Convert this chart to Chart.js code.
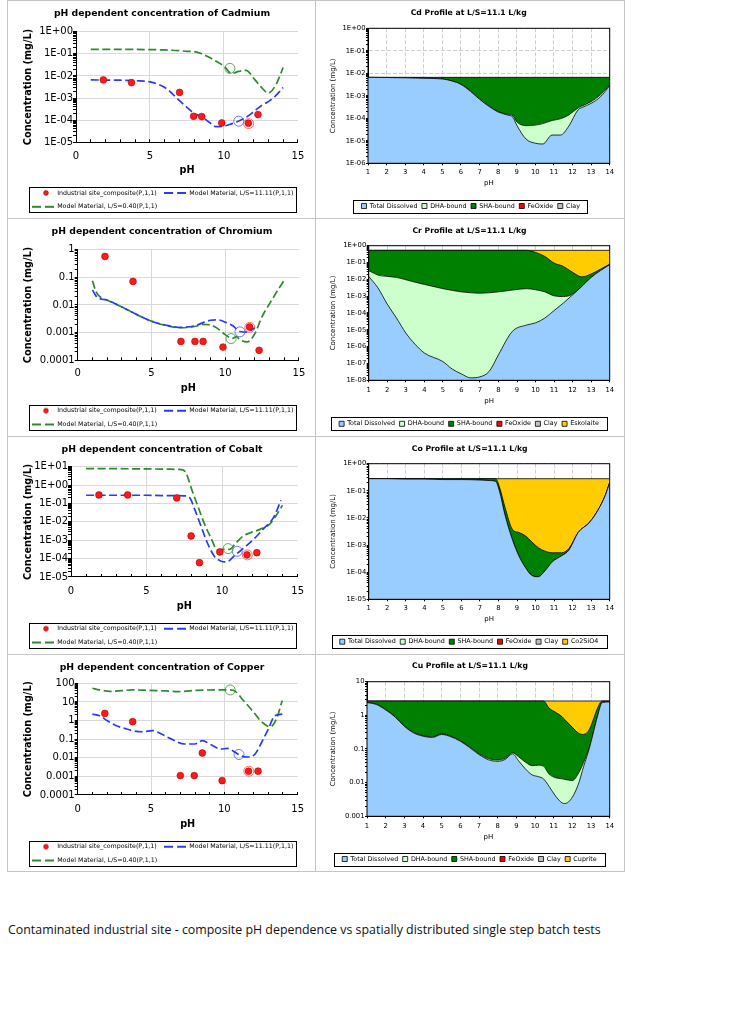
<!DOCTYPE html>
<html>
<head>
<meta charset="utf-8">
<script src="https://cdn.jsdelivr.net/npm/chart.js"></script>
<style>
  body { margin: 0; background: #fff; }
  #page { position: relative; width: 736px; height: 1024px; background: #fff; overflow: hidden; }
  .hl { position: absolute; height: 1px; background: #c4c4c4; }
  .vl { position: absolute; width: 1px; background: #c4c4c4; }
  canvas { position: absolute; }
  #caption { position: absolute; left: 8px; top: 922px; font: 12.4px/16px "Open Sans", sans-serif; color: #111; white-space: nowrap; }
</style>
</head>
<body>
<div id="page">
  <div class="hl" style="left:7px;top:0;width:618px"></div>
  <div class="hl" style="left:7px;top:218px;width:618px"></div>
  <div class="hl" style="left:7px;top:436px;width:618px"></div>
  <div class="hl" style="left:7px;top:654px;width:618px"></div>
  <div class="hl" style="left:7px;top:871px;width:618px"></div>
  <div class="vl" style="left:7px;top:0;height:872px"></div>
  <div class="vl" style="left:315px;top:0;height:872px"></div>
  <div class="vl" style="left:624px;top:0;height:872px"></div>

  <canvas id="cdLeft" width="307" height="218" style="left:8px;top:0px"></canvas>
  <canvas id="cdRight" width="308" height="218" style="left:316px;top:0px"></canvas>
  <canvas id="crLeft" width="307" height="218" style="left:8px;top:218px"></canvas>
  <canvas id="crRight" width="308" height="218" style="left:316px;top:218px"></canvas>
  <canvas id="coLeft" width="307" height="218" style="left:8px;top:436px"></canvas>
  <canvas id="coRight" width="308" height="218" style="left:316px;top:436px"></canvas>
  <canvas id="cuLeft" width="307" height="218" style="left:8px;top:654px"></canvas>
  <canvas id="cuRight" width="308" height="218" style="left:316px;top:654px"></canvas>

  <div id="caption">Contaminated industrial site - composite pH dependence vs spatially distributed single step batch tests</div>
</div>

<script>
// ---- measured samples (industrial site composite), same pH for every metal
const sitePH = [1.85, 3.75, 7.0, 7.95, 8.5, 9.85, 11.65, 12.3];
const cdSite = [6.6e-3, 5.0e-3, 1.8e-3, 1.5e-4, 1.45e-4, 7.5e-5, 7.3e-5, 1.8e-4];
const crSite = [0.57, 0.071, 4.8e-4, 4.8e-4, 4.8e-4, 3.0e-4, 1.6e-3, 2.3e-4];
const coSite = [0.29, 0.29, 0.2, 1.7e-3, 6.0e-5, 2.3e-4, 1.6e-4, 2.1e-4];
const cuSite = [2.4, 0.87, 1.1e-3, 1.1e-3, 0.018, 5.9e-4, 1.9e-3, 1.9e-3];

// ---- highlighted points (rings): green, blue, red
const ringPH = [10.4, 11.0, 11.67];
const cdRing = [0.022, 9.0e-5, 7.0e-5];
const crRing = [6.1e-4, 1.07e-3, 1.55e-3];
const coRing = [3.5e-4, 2.5e-4, 1.6e-4];
const cuRing = [44, 0.015, 1.9e-3];

// ---- model curves, L/S=11.11 and L/S=0.40
const cdPH = [1, 2, 3, 4, 5, 6, 6.5, 7, 7.5, 8, 8.5, 9, 9.5, 10, 10.5, 11, 11.5, 12, 12.5, 13, 13.5, 14];
const cdLS11 = [6.6e-3, 6.5e-3, 6.4e-3, 6.1e-3, 5.4e-3, 3.0e-3, 1.6e-3, 7.6e-4, 3.8e-4, 2.0e-4, 1.45e-4, 8.0e-5, 5.1e-5, 5.4e-5, 6.8e-5, 9.1e-5, 1.35e-4, 2.4e-4, 4.4e-4, 6.9e-4, 1.3e-3, 3.0e-3];
const cdLS04 = [0.16, 0.16, 0.16, 0.158, 0.155, 0.15, 0.145, 0.138, 0.13, 0.125, 0.10, 0.07, 0.045, 0.028, 0.013, 0.016, 0.018, 0.008, 3.2e-3, 1.7e-3, 3.9e-3, 0.024];

const crPH11 = [1, 1.25, 1.5, 2, 3, 4, 5, 6, 7, 8, 8.5, 9, 9.5, 10, 10.5, 11, 11.5, 12];
const crLS11 = [0.035, 0.021, 0.017, 0.015, 8.5e-3, 4.5e-3, 2.6e-3, 1.85e-3, 1.55e-3, 1.8e-3, 2.3e-3, 2.8e-3, 2.9e-3, 2.4e-3, 1.8e-3, 1.1e-3, 1.05e-3, 1.5e-3];
const crPH04 = [1, 1.25, 1.5, 2, 3, 4, 5, 6, 7, 8, 8.5, 9, 9.5, 10, 10.5, 10.75, 11, 11.5, 12, 12.5, 13, 13.5, 14];
const crLS04 = [0.075, 0.03, 0.02, 0.015, 8.5e-3, 4.5e-3, 2.6e-3, 1.8e-3, 1.5e-3, 1.7e-3, 2.0e-3, 1.9e-3, 1.4e-3, 8.5e-4, 6.2e-4, 7.2e-4, 5.5e-4, 4.6e-4, 9.0e-4, 3.8e-3, 0.011, 0.03, 0.08];

const coPH11 = [1, 2, 3, 4, 5, 6, 7, 7.5, 7.85, 8.2, 8.6, 9, 9.5, 9.9, 10.3, 10.8, 11.2, 11.6, 12.3, 12.7, 13.4, 13.9];
const coLS11 = [0.28, 0.28, 0.28, 0.28, 0.28, 0.27, 0.27, 0.26, 0.21, 0.045, 6.0e-3, 8.0e-4, 1.3e-4, 7.5e-5, 6.6e-5, 1.4e-4, 2.6e-4, 4.9e-4, 1.7e-3, 3.9e-3, 0.017, 0.15];
const coPH04 = [1, 2, 3, 4, 5, 6, 7, 7.3, 7.6, 8, 8.4, 8.8, 9.25, 9.7, 10.1, 10.5, 10.9, 11.4, 11.9, 12.5, 13.2, 14];
const coLS04 = [7.8, 7.8, 7.8, 7.7, 7.6, 7.4, 7.2, 7.0, 4.8, 0.55, 0.07, 9.0e-3, 1.4e-3, 3.0e-4, 3.2e-4, 3.2e-4, 6.8e-4, 1.7e-3, 2.6e-3, 3.9e-3, 8.3e-3, 0.08];

const cuPH11 = [1, 1.5, 2, 2.6, 3.2, 3.7, 4.4, 5.1, 5.5, 6.4, 7.3, 8.0, 8.5, 9.1, 9.75, 10.2, 10.65, 11.1, 11.65, 12.1, 12.55, 13.0, 13.45, 13.95];
const cuLS11 = [2.2, 1.8, 1.0, 0.54, 0.38, 0.29, 0.25, 0.29, 0.23, 0.1, 0.055, 0.055, 0.083, 0.05, 0.029, 0.032, 0.022, 0.013, 0.011, 0.016, 0.068, 0.35, 1.8, 2.2];
const cuPH04 = [1, 1.5, 2.2, 3, 3.7, 4.8, 6, 6.85, 8.2, 9.3, 10.2, 10.4, 10.75, 11.3, 12.0, 12.45, 12.9, 13.15, 13.55, 13.95];
const cuLS04 = [54, 44, 37, 40, 44, 42, 39, 36, 42, 44, 44, 44, 37, 12, 2.8, 1.0, 0.53, 0.47, 1.2, 12];

// ---- speciation profiles at L/S=11.1 (upper boundary of each layer)
const profileEnds = [1, 14];

const cdProfPH = [1, 2, 3, 4, 5, 5.5, 6, 6.5, 7, 7.5, 8, 8.5, 8.8, 9, 9.5, 10, 10.4, 10.9, 11.35, 11.8, 12.3, 12.5, 13, 13.5, 14];
const cdDiss = [6.6e-3, 6.5e-3, 6.3e-3, 6.0e-3, 5.6e-3, 4.6e-3, 3.2e-3, 1.6e-3, 7.0e-4, 3.4e-4, 1.9e-4, 1.4e-4, 1.1e-4, 5.0e-5, 1.2e-5, 7.8e-6, 7.2e-6, 1.8e-5, 1.8e-5, 4.5e-5, 2.4e-4, 3.0e-4, 4.6e-4, 9.0e-4, 2.8e-3];
const cdDHA = [6.6e-3, 6.5e-3, 6.3e-3, 6.0e-3, 5.6e-3, 4.6e-3, 3.3e-3, 1.7e-3, 7.3e-4, 3.6e-4, 2.0e-4, 1.5e-4, 1.3e-4, 7.0e-5, 4.7e-5, 5.0e-5, 5.8e-5, 8.0e-5, 9.5e-5, 1.4e-4, 2.9e-4, 3.5e-4, 5.5e-4, 1.1e-3, 3.0e-3];
const cdSHA = [6.6e-3, 6.6e-3];

const crProfPH = [1, 1.5, 2, 2.5, 3, 3.5, 4, 5, 5.5, 6, 6.5, 7, 7.5, 8, 8.75, 9.5, 10, 10.5, 11, 11.5, 12, 12.5, 13, 13.5, 14];
const crDiss = [0.015, 3.1e-3, 3.4e-4, 5.0e-5, 6.5e-6, 1.4e-6, 4.2e-7, 1.3e-7, 4.7e-8, 2.4e-8, 1.4e-8, 1.6e-8, 3.4e-8, 3.3e-7, 8.1e-6, 1.9e-5, 2.6e-5, 5.0e-5, 1.4e-4, 3.9e-4, 1.2e-3, 3.8e-3, 0.013, 0.033, 0.074];
const crDHA = [0.033, 0.018, 0.015, 0.013, 9.5e-3, 6.8e-3, 5.0e-3, 2.8e-3, 2.2e-3, 1.8e-3, 1.6e-3, 1.5e-3, 1.6e-3, 1.8e-3, 2.3e-3, 2.8e-3, 2.4e-3, 1.8e-3, 1.05e-3, 9.5e-4, 1.3e-3, 3.8e-3, 0.013, 0.033, 0.074];
const crShaPH = [1, 9.5, 10, 10.5, 11, 11.5, 12, 12.5, 13, 13.5, 14];
const crSHA = [0.53, 0.53, 0.40, 0.23, 0.093, 0.059, 0.026, 0.014, 0.021, 0.04, 0.08];
const crTotal = [0.53, 0.53];

const coProfPH = [1, 2, 3, 4, 5, 6, 7, 7.5, 7.85, 8.05, 8.35, 8.75, 9.1, 9.45, 9.8, 10.15, 10.5, 10.9, 11.4, 11.8, 12.3, 12.9, 13.4, 13.75, 14];
const coDiss = [0.28, 0.28, 0.27, 0.27, 0.26, 0.26, 0.25, 0.24, 0.22, 0.1, 0.013, 1.6e-3, 4.0e-4, 1.5e-4, 7.6e-5, 6.8e-5, 1.1e-4, 2.4e-4, 4.0e-4, 6.5e-4, 2.9e-3, 6.7e-3, 0.021, 0.065, 0.2];
const coShaPH = [1, 7.85, 8.05, 8.35, 8.75, 9.1, 9.45, 9.8, 10.15, 10.5, 10.9, 11.4, 11.8, 12.3, 12.9, 13.4, 13.75, 14];
const coSHA = [0.28, 0.28, 0.14, 0.025, 3.8e-3, 2.9e-3, 2.2e-3, 1.3e-3, 8.0e-4, 6.0e-4, 5.2e-4, 5.2e-4, 7.5e-4, 2.9e-3, 6.7e-3, 0.021, 0.065, 0.2];
const coTotal = [0.28, 0.28];

const cuProfPH = [1, 1.5, 2, 2.5, 3, 3.5, 4, 4.5, 5, 5.5, 6, 6.5, 7, 7.5, 8, 8.4, 8.8, 9.1, 9.5, 9.85, 10.2, 10.45, 10.75, 11.1, 11.45, 11.6, 12, 12.35, 12.6, 12.9, 13.1, 13.35, 13.6, 14];
const cuDiss = [2.4, 2.1, 1.45, 0.9, 0.47, 0.3, 0.24, 0.22, 0.27, 0.23, 0.17, 0.11, 0.068, 0.048, 0.043, 0.049, 0.072, 0.046, 0.025, 0.017, 0.015, 0.013, 7.8e-3, 4.0e-3, 2.5e-3, 2.4e-3, 3.7e-3, 0.01, 0.03, 0.1, 0.27, 0.95, 2.4, 2.5];
const cuDHA = [2.45, 2.15, 1.5, 0.93, 0.49, 0.31, 0.25, 0.23, 0.28, 0.24, 0.175, 0.115, 0.072, 0.052, 0.047, 0.053, 0.078, 0.06, 0.04, 0.032, 0.033, 0.031, 0.018, 0.014, 0.013, 0.0125, 0.0115, 0.02, 0.04, 0.11, 0.28, 0.97, 2.45, 2.55];
const cuShaPH = [1, 10.45, 10.75, 11.1, 11.45, 11.6, 12, 12.35, 12.6, 12.9, 13.1, 13.35, 13.6, 14];
const cuSHA = [2.67, 2.67, 1.65, 1.23, 0.91, 0.74, 0.44, 0.29, 0.27, 0.37, 0.69, 1.65, 2.67, 2.67];
const cuTotal = [2.67, 2.67];

// ---- axis ticks
const phLabels = [0, 5, 10, 15];
const cdLeftTicks = [1e-5, 1e-4, 1e-3, 1e-2, 1e-1, 1];
const crLeftTicks = [1e-4, 1e-3, 1e-2, 1e-1, 1];
const coLeftTicks = [1e-5, 1e-4, 1e-3, 1e-2, 1e-1, 1, 10];
const cuLeftTicks = [1e-4, 1e-3, 1e-2, 1e-1, 1, 10, 100];
const cdProfTicks = [1e-6, 1e-5, 1e-4, 1e-3, 1e-2, 1e-1, 1];
const crProfTicks = [1e-8, 1e-7, 1e-6, 1e-5, 1e-4, 1e-3, 1e-2, 1e-1, 1];
const coProfTicks = [1e-5, 1e-4, 1e-3, 1e-2, 1e-1, 1];
const cuProfTicks = [1e-3, 1e-2, 1e-1, 1, 10];

// ---- styles
const RED = '#ff1a1a', BLUE = '#2b3cf0', GREEN = '#2d8a2d';
const RING = ['#4aa04a', '#5a6cf5', '#ff5a5a'];
const GRID = '#d9d9d9', GRID_R = '#cfcfcf';
const C_DISS = '#99ccff', C_DHA = '#ccffcc', C_SHA = '#008000', C_FE = '#ff0000', C_CLAY = '#c0c0c0', C_MIN = '#ffcc00';
const LEG_SITE = 'Industrial site_composite(P,1,1)';
const LEG_11 = 'Model Material, L/S=11.11(P,1,1)';
const LEG_04 = 'Model Material, L/S=0.40(P,1,1)';

Chart.defaults.font.family = '"DejaVu Sans", Verdana, sans-serif';
Chart.defaults.color = '#000';
Chart.defaults.animation = false;
Chart.defaults.events = [];
Chart.defaults.plugins.tooltip.enabled = false;

const pts = (xs, ys) => xs.map((x, i) => ({x: x, y: ys[i]}));

function sci(v) {
  const e = Math.round(Math.log10(v));
  return '1E' + (e < 0 ? '-' : '+') + String(Math.abs(e)).padStart(2, '0');
}
function plain(v) {
  const e = Math.round(Math.log10(v));
  return e >= 0 ? String(Math.pow(10, e)) : Math.pow(10, e).toFixed(-e);
}
// decade ticks plus unlabeled minor ticks
function withMinor(decades) {
  const out = [];
  decades.forEach((d, i) => {
    out.push({value: d, major: true});
    if (i < decades.length - 1) {
      for (let k = 2; k < 10; k++) out.push({value: d * k, major: false});
    }
  });
  return out;
}

// legend markers for the left charts
function dashIcon(color) {
  const c = document.createElement('canvas');
  c.width = 22; c.height = 4;
  const g = c.getContext('2d');
  g.strokeStyle = color; g.lineWidth = 1.8; g.setLineDash([9, 4]);
  g.beginPath(); g.moveTo(0, 2); g.lineTo(22, 2); g.stroke();
  return c;
}
function dotIcon() {
  const c = document.createElement('canvas');
  c.width = 22; c.height = 8;
  const g = c.getContext('2d');
  g.fillStyle = RED; g.strokeStyle = '#b00000'; g.lineWidth = 0.6;
  g.beginPath(); g.arc(14, 4, 2.4, 0, Math.PI * 2); g.fill(); g.stroke();
  return c;
}
const ICON = { dot: dotIcon(), blue: dashIcon(BLUE), green: dashIcon(GREEN) };

// puts title / legend where the reference has them, draws legend box and plot frame
const place = {
  id: 'place',
  afterLayout(chart, args, o) {
    const t = chart.titleBlock;
    if (t && o.title) {
      const h = t.height;
      t.left = o.title.x - 150; t.right = o.title.x + 150; t.width = 300;
      t.top = o.title.y - h / 2; t.bottom = t.top + h;
    }
    const lg = chart.legend;
    if (lg && o.legend) {
      lg.left = o.legend.left; lg.right = o.legend.right; lg.width = lg.right - lg.left;
      lg.top = o.legend.top; lg.height = 40; lg.bottom = lg.top + 40;
    }
  },
  afterDraw(chart, args, o) {
    const ctx = chart.ctx;
    ctx.save();
    ctx.strokeStyle = '#000';
    ctx.lineWidth = 1;
    if (o.frame) {
      const a = chart.chartArea;
      ctx.strokeRect(a.left, a.top, a.right - a.left, a.bottom - a.top);
    }
    const hb = chart.legend && chart.legend.legendHitBoxes;
    if (hb && hb.length && o.box) {
      const l = Math.min(...hb.map(h => h.left));
      const r = Math.max(...hb.map(h => h.left + h.width));
      const t = Math.min(...hb.map(h => h.top));
      const b = Math.max(...hb.map(h => h.top + h.height));
      ctx.strokeRect(Math.round(l - o.box.mx) + 0.5, Math.round(t - o.box.my) + 0.5,
        Math.round(r - l + 2 * o.box.mx), Math.round(b - t + 2 * o.box.my));
    }
    ctx.restore();
  }
};

function leftChart(id, g, d) {
  const ox = 8, oy = g.row, W = 307, H = 218;
  const fT = 9.3, fA = 9.7, fK = 10, fL = 6.3, lp = 7.5, tl = -3;
  const xh = g.xTitleY - g.b + fA * 0.6;
  const datasets = [
    { label: LEG_SITE, data: pts(sitePH, d.site), pointRadius: 3.4,
      pointBackgroundColor: RED, pointBorderColor: '#b00000', pointBorderWidth: 0.6 },
    { label: LEG_11, data: pts(d.ph11, d.ls11), showLine: true, borderColor: BLUE, borderWidth: 1.7,
      borderDash: [8, 3.5], pointRadius: 0, cubicInterpolationMode: 'monotone' },
    { label: LEG_04, data: pts(d.ph04, d.ls04), showLine: true, borderColor: GREEN, borderWidth: 1.7,
      borderDash: [8, 3.5], pointRadius: 0, cubicInterpolationMode: 'monotone' }
  ];
  ringPH.forEach((x, i) => datasets.push({
    data: [{x: x, y: d.ring[i]}], pointRadius: 5, pointBorderWidth: 0.9,
    pointBackgroundColor: 'rgba(0,0,0,0)', pointBorderColor: RING[i]
  }));

  return new Chart(document.getElementById(id), {
    type: 'scatter',
    data: { datasets: datasets },
    options: {
      responsive: false,
      layout: { padding: { left: 0, top: g.t - oy - fT * 1.2, right: W - (g.r - ox), bottom: H - (g.b - oy) - xh } },
      scales: {
        x: {
          type: 'linear', min: 0, max: 15,
          ticks: { stepSize: 1, autoSkip: false, maxRotation: 0, font: { size: fK },
            padding: g.xLabY - g.b - tl - fK * 0.6,
            callback: v => phLabels.includes(v) ? String(v) : '' },
          grid: { color: c => (c.tick && (c.tick.value === 5 || c.tick.value === 10)) ? GRID : 'rgba(0,0,0,0)',
            tickColor: '#000', tickLength: tl },
          border: { color: '#000', width: 1 },
          title: { display: true, text: 'pH', font: { size: fA, weight: 'bold' }, padding: 0 },
          afterFit: s => { s.height = xh; }
        },
        y: {
          type: 'logarithmic', min: d.ticks[0], max: d.ticks[d.ticks.length - 1],
          afterBuildTicks: s => { s.ticks = withMinor(d.ticks); },
          ticks: { autoSkip: false, font: { size: fK }, padding: 0,
            callback: (v, i, t) => t[i].major ? d.fmt(v) : '' },
          grid: { color: c => (c.tick && c.tick.major) ? GRID : 'rgba(0,0,0,0)', tickColor: '#000', tickLength: 3 },
          border: { color: '#000', width: 1 },
          title: { display: true, text: 'Concentration (mg/L)', font: { size: fA, weight: 'bold' },
            padding: { top: g.yTitleX - ox - fA * 0.6, bottom: 0 } },
          afterFit: s => { s.width = g.l - ox; }
        }
      },
      plugins: {
        title: { display: true, text: d.title, font: { size: fT, weight: 'bold' }, padding: 0 },
        legend: {
          position: 'bottom', align: 'start', maxHeight: 0.01,
          labels: {
            font: { size: fL }, padding: lp, usePointStyle: true, pointStyleWidth: 22,
            generateLabels: () => [
              { text: LEG_SITE, pointStyle: ICON.dot, lineWidth: 0, hidden: false, datasetIndex: 0 },
              { text: LEG_11, pointStyle: ICON.blue, lineWidth: 0, hidden: false, datasetIndex: 1 },
              { text: LEG_04, pointStyle: ICON.green, lineWidth: 0, hidden: false, datasetIndex: 2 }
            ]
          }
        },
        place: {
          title: { x: 162 - ox, y: g.titleY - oy },
          legend: { left: 32 - ox - lp, right: W, top: g.legRow - oy - lp - fL / 2 },
          box: { mx: 3, my: 2.6 }
        }
      }
    },
    plugins: [place]
  });
}

function rightChart(id, g, d) {
  const ox = 316, oy = g.row, W = 308, H = 218;
  const fT = 7.7, fA = 7, fK = 6.8, fL = 6.4, lp = 4.5;
  const xh = g.xTitleY - g.b + fA * 0.6;
  const layer = (label, data, fill, color) => ({
    label: label, data: data, fill: fill, backgroundColor: color, borderColor: '#000', borderWidth: 0.8,
    pointRadius: 0, cubicInterpolationMode: 'monotone'
  });
  const datasets = [
    layer('Total Dissolved', pts(d.ph, d.diss), 'start', C_DISS),
    layer('DHA-bound', pts(d.ph, d.dha), '-1', C_DHA),
    layer('SHA-bound', pts(d.shaPH, d.sha), '-1', C_SHA),
    layer('FeOxide', [], false, C_FE),
    layer('Clay', [], false, C_CLAY)
  ];
  if (d.mineral) datasets.push(layer(d.mineral, pts(profileEnds, d.total), 2, C_MIN));

  return new Chart(document.getElementById(id), {
    type: 'line',
    data: { datasets: datasets },
    options: {
      responsive: false,
      layout: { padding: { left: 0, top: g.t - oy - fT * 1.2, right: W - (g.r - ox), bottom: H - (g.b - oy) - xh } },
      scales: {
        x: {
          type: 'linear', min: 1, max: 14,
          ticks: { stepSize: 1, autoSkip: false, maxRotation: 0, font: { size: fK },
            padding: g.xLabY - g.b - 2 - fK * 0.6 },
          grid: { color: GRID_R, tickColor: '#000', tickLength: 2 },
          border: { color: '#000', width: 1, dash: [4, 2] },
          title: { display: true, text: 'pH', font: { size: fA }, padding: 0 },
          afterFit: s => { s.height = xh; }
        },
        y: {
          type: 'logarithmic', min: d.ticks[0], max: d.ticks[d.ticks.length - 1],
          afterBuildTicks: s => { s.ticks = withMinor(d.ticks); },
          ticks: { autoSkip: false, font: { size: fK }, padding: 0.5,
            callback: (v, i, t) => t[i].major ? d.fmt(v) : '' },
          grid: { color: c => (c.tick && c.tick.major) ? GRID_R : 'rgba(0,0,0,0)', tickColor: '#000', tickLength: 2 },
          border: { color: '#000', width: 1, dash: [4, 2] },
          title: { display: true, text: 'Concentration (mg/L)', font: { size: fA },
            padding: { top: g.yTitleX - ox - fA * 0.6, bottom: 0 } },
          afterFit: s => { s.width = g.l - ox; }
        }
      },
      plugins: {
        title: { display: true, text: d.title, font: { size: fT, weight: 'bold' }, padding: 0 },
        legend: {
          position: 'bottom', align: 'center', maxHeight: 0.01,
          labels: { font: { size: fL }, padding: lp, boxWidth: 5, boxHeight: 5 }
        },
        place: {
          title: { x: g.titleX - ox, y: g.titleY - oy },
          legend: { left: g.legCx - ox - 150, right: g.legCx - ox + 150, top: g.legRow - oy - lp - fL / 2 },
          box: { mx: 8, my: 3.3 },
          frame: true
        }
      }
    },
    plugins: [place]
  });
}

// ---- left column: pH dependent concentration
leftChart('cdLeft',
  { row: 0, titleY: 14, l: 76, t: 31.7, r: 301.7, b: 142.3, xLabY: 156, xTitleY: 170, yTitleX: 28, legRow: 193 },
  { title: 'pH dependent concentration of Cadmium', site: cdSite, ring: cdRing,
    ph11: cdPH, ls11: cdLS11, ph04: cdPH, ls04: cdLS04, ticks: cdLeftTicks, fmt: sci });
leftChart('crLeft',
  { row: 218, titleY: 232, l: 77.7, t: 249.7, r: 301.7, b: 360.3, xLabY: 373, xTitleY: 388, yTitleX: 28, legRow: 410.7 },
  { title: 'pH dependent concentration of Chromium', site: crSite, ring: crRing,
    ph11: crPH11, ls11: crLS11, ph04: crPH04, ls04: crLS04, ticks: crLeftTicks, fmt: plain });
leftChart('coLeft',
  { row: 436, titleY: 449.3, l: 71, t: 466.7, r: 301.7, b: 577, xLabY: 591, xTitleY: 606, yTitleX: 28, legRow: 628.7 },
  { title: 'pH dependent concentration of Cobalt', site: coSite, ring: coRing,
    ph11: coPH11, ls11: coLS11, ph04: coPH04, ls04: coLS04, ticks: coLeftTicks, fmt: sci });
leftChart('cuLeft',
  { row: 654, titleY: 667.3, l: 77.7, t: 683.3, r: 301.7, b: 795, xLabY: 809, xTitleY: 824, yTitleX: 28, legRow: 846.7 },
  { title: 'pH dependent concentration of Copper', site: cuSite, ring: cuRing,
    ph11: cuPH11, ls11: cuLS11, ph04: cuPH04, ls04: cuLS04, ticks: cuLeftTicks, fmt: plain });

// ---- right column: speciation profiles
rightChart('cdRight',
  { row: 0, titleX: 468.7, titleY: 13.3, l: 368, t: 28.3, r: 609.7, b: 163.3, xLabY: 172.7, xTitleY: 183, yTitleX: 332.7, legRow: 206, legCx: 470.7 },
  { title: 'Cd Profile at L/S=11.1 L/kg', ph: cdProfPH, diss: cdDiss, dha: cdDHA,
    shaPH: profileEnds, sha: cdSHA, ticks: cdProfTicks, fmt: sci });
rightChart('crRight',
  { row: 218, titleX: 469.5, titleY: 230.7, l: 368.7, t: 245.7, r: 609.7, b: 380.3, xLabY: 390.7, xTitleY: 401, yTitleX: 332.7, legRow: 423.8, legCx: 469 },
  { title: 'Cr Profile at L/S=11.1 L/kg', ph: crProfPH, diss: crDiss, dha: crDHA,
    shaPH: crShaPH, sha: crSHA, mineral: 'Eskolaite', total: crTotal, ticks: crProfTicks, fmt: sci });
rightChart('coRight',
  { row: 436, titleX: 469.7, titleY: 448.7, l: 368.7, t: 463.7, r: 609.7, b: 599.3, xLabY: 608.7, xTitleY: 619, yTitleX: 332.7, legRow: 641.7, legCx: 469 },
  { title: 'Co Profile at L/S=11.1 L/kg', ph: coProfPH, diss: coDiss, dha: coDiss,
    shaPH: coShaPH, sha: coSHA, mineral: 'Co2SiO4', total: coTotal, ticks: coProfTicks, fmt: sci });
rightChart('cuRight',
  { row: 654, titleX: 470, titleY: 665.7, l: 367, t: 681.7, r: 609.7, b: 816.3, xLabY: 826, xTitleY: 837, yTitleX: 332.7, legRow: 859, legCx: 469.5 },
  { title: 'Cu Profile at L/S=11.1 L/kg', ph: cuProfPH, diss: cuDiss, dha: cuDHA,
    shaPH: cuShaPH, sha: cuSHA, mineral: 'Cuprite', total: cuTotal, ticks: cuProfTicks, fmt: plain });
</script>
</body>
</html>
